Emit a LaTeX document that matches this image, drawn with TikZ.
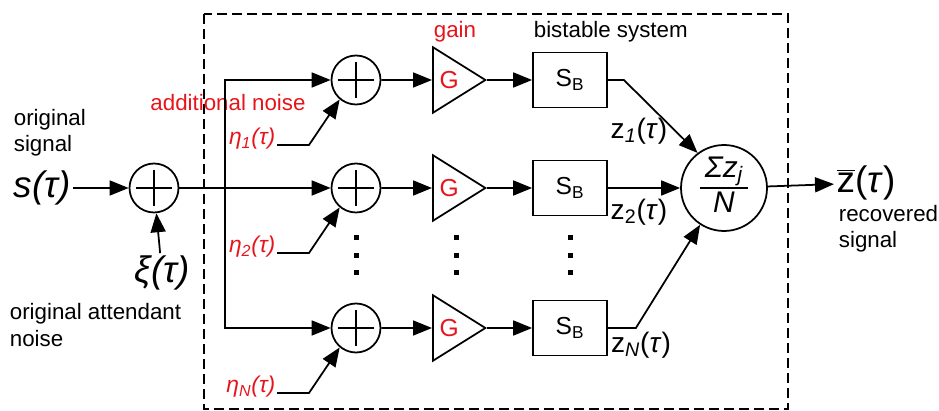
\documentclass[tikz,border=0pt]{standalone}
\usepackage{fontspec}
\setmainfont{Liberation Sans}
\usetikzlibrary{arrows.meta,shapes.geometric}
\definecolor{noise-red}{HTML}{E8141C}

\begin{document}
\begin{tikzpicture}[x=0.02cm, y=-0.02cm, line width=1pt,
    every node/.style={font=\fontsize{12.7}{15}\selectfont},
    >={Triangle[length=3.8mm,width=3mm]},
    sumc/.style={draw, circle, minimum size=0.98cm, inner sep=0,
      path picture={\draw (path picture bounding box.center) +(-0.36cm,0) -- +(0.36cm,0)
        +(0,-0.36cm) -- +(0,0.36cm);}},
    gainT/.style={draw, isosceles triangle, isosceles triangle apex angle=64,
      minimum height=1.05cm, inner sep=0,
      text=noise-red, font=\fontsize{14}{16}\selectfont},
    sbbox/.style={draw, minimum width=1.48cm, minimum height=1.1cm,
      font=\fontsize{14}{16}\selectfont},
    big/.style={font=\fontsize{21}{24}\selectfont\itshape, inner sep=1pt},
    zlbl/.style={font=\fontsize{16}{18}\selectfont, inner sep=1pt},
    etalbl/.style={text=noise-red, font=\fontsize{13}{15}\selectfont\itshape, inner sep=0.5pt}]
  \useasboundingbox (0,0) rectangle (939,411);
  \draw[dash pattern=on 0.2cm off 0.1cm] (204,14) rectangle (788,409);

  % input side
  \node[align=left, anchor=west, inner sep=0] (lblsig) at (13,133) {original\\signal};
  \node[big, anchor=west] (s) at (11,188) {s(τ)};
  \node[sumc] (sum0) at (154,188) {};
  \node[big] (xi) at (162,273) {ξ(τ)};
  \node[align=left, anchor=west, inner sep=0] (lblatt) at (9,325) {original attendant\\noise};
  \draw[->] (s) -- (sum0);
  \draw[->] (xi) -- (sum0);

  % branches
  \coordinate (split) at (225,188);
  \node[text=noise-red] (lbladd) at (228,103) {additional noise};
  \node[text=noise-red] (lblgain) at (455,32) {gain};
  \node[anchor=west, inner sep=0] (lblbi) at (533,32) {bistable system};
  \foreach \i/\y in {1/80,2/188,N/328} {
    \node[sumc] (sum\i) at (356,\y) {};
    \node[gainT, anchor=west] (g\i) at (432,\y) {G};
    \node[sbbox] (sb\i) at (570,\y) {S\textsubscript{B}};
    \node[etalbl, anchor=base east] (eta\i) at (277,\y+65) {η\textsubscript{\i}(τ)};
    \draw[->] (sum\i) -- (g\i);
    \draw[->] (g\i.apex) -- (sb\i);
    \draw[->] (eta\i.base east) -- ++(32,0) -- (sum\i.230);
  }
  \draw[->] (sum0) -- (sum2);
  \draw[->] (split) |- (sum1);
  \draw[->] (split) |- (sumN);
  \foreach \x in {356,456,570}
    \foreach \y in {238,256,273}
      \fill (\x-2.5,\y-2.5) rectangle (\x+2.5,\y+2.5);

  % averaging and output
  \node[draw, circle, minimum size=1.72cm, inner sep=0,
    font=\fontsize{17}{19}\selectfont\itshape] (avg) at (724,188)
    {\setlength{\arrayrulewidth}{1pt}\begin{tabular}{@{\,}c@{\,}}Σz\textsubscript{j}\\\hline N\end{tabular}};
  \draw[->] (sb1.east) -- ++(16,0) -- (avg.127);
  \draw[->] (sb2) -- (avg);
  \draw[->] (sbN.east) -- ++(28,0) -- (avg.237);
  \node[zlbl] (z1) at (639,131) {z\textsubscript{\itshape 1}(\textit{τ})};
  \node[zlbl] (z2) at (639,212) {z\textsubscript{2}(\textit{τ})};
  \node[zlbl] (zN) at (641,345) {z\textsubscript{\itshape N}(\textit{τ})};
  \node[big, anchor=west, font=\fontsize{21}{24}\selectfont] (zbar) at (834,183)
    {$\overline{\mbox{z}}$(\textit{τ})};
  \draw[->] (avg) -- (zbar);
  \node[align=left, anchor=west, inner sep=0] (lblrec) at (838,229) {recovered\\signal};
\end{tikzpicture}
\end{document}
